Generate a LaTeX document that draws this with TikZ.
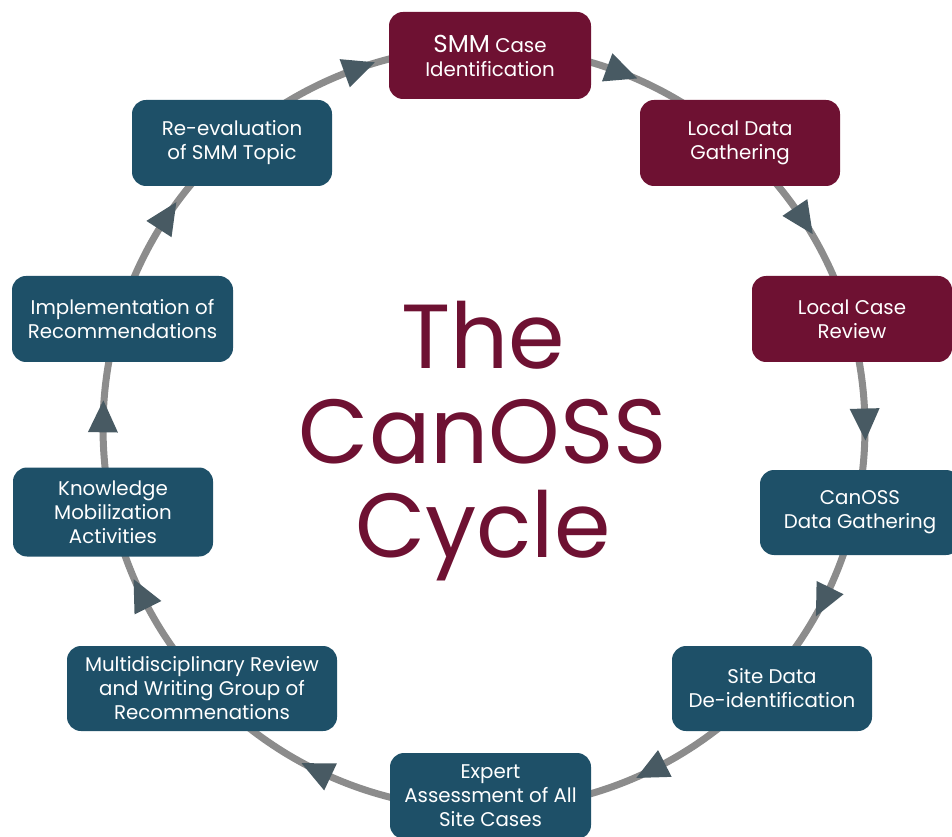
\documentclass[tikz,border=0pt]{standalone}
\usepackage{fontspec}
\setmainfont{Poppins}
\usetikzlibrary{shapes.geometric,decorations.markings}
\definecolor{maroonc}{RGB}{110,17,50}
\definecolor{tealc}{RGB}{30,80,104}
\definecolor{arrowc}{RGB}{72,90,99}
\definecolor{ringc}{RGB}{140,140,140}
\begin{document}
\begin{tikzpicture}[x=1pt,y=1pt,
  box/.style={rounded corners=14pt, text=white, align=center,
    font=\fontsize{19.8}{24}\selectfont, inner sep=0pt},
  redbox/.style={box, fill=maroonc},
  bluebox/.style={box, fill=tealc},
  tri/.style={isosceles triangle, isosceles triangle stretches, fill=arrowc,
    minimum height=32pt, minimum width=30pt, inner sep=0pt, transform shape},
  ring/.style={draw=ringc, line width=7pt},
  arrowat/.style={postaction={decorate},
    decoration={markings, mark=at position #1 with {\node[tri]{};}}},
  titletext/.style={text=maroonc, font=\fontsize{91}{94}\selectfont, anchor=base}
]
\useasboundingbox (0,0) rectangle (952,836);
\clip (0,0) rectangle (952,836);

\coordinate (c) at (484,408);
\foreach \n/\a in {1/89.1, 2/48.1, 3/16.5, 4/-12.7, 5/-42.1,
                   6/-89.1, 7/-137.3, 8/-167.2, 9/163.2, 10/131.5}
  \path (c) ++(\a:381) coordinate (p\n);

% connectors along the ring
\draw[ring, arrowat=0.473] (p1) arc[start angle=89.1, end angle=48.1, radius=381pt];
\draw[ring, arrowat=0.449] (p2) arc[start angle=48.1, end angle=16.5, radius=381pt];
\draw[ring, arrowat=0.514] (p3) arc[start angle=16.5, end angle=-12.7, radius=381pt];
\draw[ring, arrowat=0.459] (p4) arc[start angle=-12.7, end angle=-42.1, radius=381pt];
\draw[ring, arrowat=0.447] (p5) arc[start angle=-42.1, end angle=-89.1, radius=381pt];
\draw[ring, arrowat=0.541] (p6) arc[start angle=-89.1, end angle=-137.3, radius=381pt];
\draw[ring, arrowat=0.535] (p7) arc[start angle=-137.3, end angle=-167.2, radius=381pt];
\draw[ring, arrowat=0.459] (p8) arc[start angle=-167.2, end angle=-196.8, radius=381pt];
\draw[ring, arrowat=0.508] (p9) arc[start angle=-196.8, end angle=-228.5, radius=381pt];
\draw[ring, arrowat=0.507] (p10) arc[start angle=-228.5, end angle=-270.9, radius=381pt];

% boxes
\node[redbox, minimum width=202pt, minimum height=87pt] (b1) at (490,780.5)
  {{\fontsize{24.5}{24}\selectfont SMM} Case\\Identification};
\node[redbox, minimum width=200pt, minimum height=86pt] (b2) at (740,693)
  {Local Data\\Gathering};
\node[redbox, minimum width=200pt, minimum height=86pt] (b3) at (852,517)
  {Local Case\\Review};
\node[bluebox, minimum width=200pt, minimum height=85pt] (b4) at (860,323.5)
  {CanOSS\\Data Gathering};
\node[bluebox, minimum width=200pt, minimum height=85pt] (b5) at (772,147.5)
  {Site Data\\De-identification};
\node[bluebox, minimum width=201pt, minimum height=86pt] (b6) at (490.5,40)
  {Expert\\Assessment of All\\Site Cases};
\node[bluebox, minimum width=270pt, minimum height=85pt] (b7) at (202,147.5)
  {Multidisciplinary Review\\and Writing Group of\\Recommenations};
\node[bluebox, minimum width=200pt, minimum height=89pt] (b8) at (113,324)
  {Knowledge\\Mobilization\\Activities};
\node[bluebox, minimum width=221pt, minimum height=86pt] (b9) at (122.5,517)
  {Implementation of\\Recommendations};
\node[bluebox, minimum width=200pt, minimum height=86pt] (b10) at (232,693)
  {Re-evaluation\\of SMM Topic};

% title
\node[titletext] (t1) at (483,467) {The};
\node[titletext] (t2) at (483,373) {CanOSS};
\node[titletext] (t3) at (483,279) {Cycle};
\end{tikzpicture}
\end{document}
